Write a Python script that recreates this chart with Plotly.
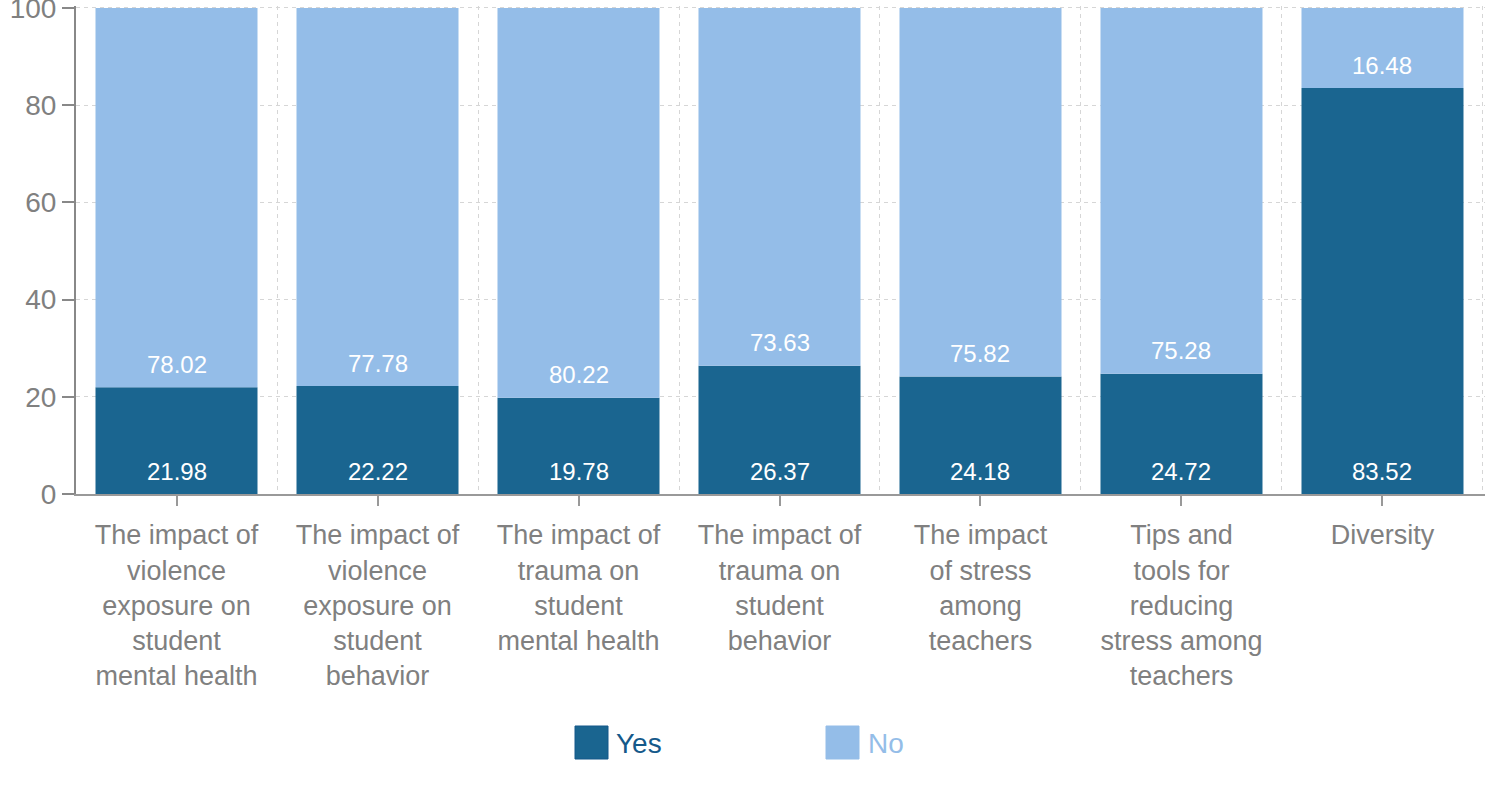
import plotly.graph_objects as go

# Survey topics (x categories, wrapped for the axis)
categories = [
    "The impact of<br>violence<br>exposure on<br>student<br>mental health",
    "The impact of<br>violence<br>exposure on<br>student<br>behavior",
    "The impact of<br>trauma on<br>student<br>mental health",
    "The impact of<br>trauma on<br>student<br>behavior",
    "The impact<br>of stress<br>among<br>teachers",
    "Tips and<br>tools for<br>reducing<br>stress among<br>teachers",
    "Diversity",
]
yes_values = [21.98, 22.22, 19.78, 26.37, 24.18, 24.72, 83.52]
no_values = [78.02, 77.78, 80.22, 73.63, 75.82, 75.28, 16.48]
y_ticks = [0, 20, 40, 60, 80, 100]

YES_COLOR = "#1a6590"
NO_COLOR = "#94bde8"
GREY = "#808080"
GRID = "#d6d6d6"
FONT = "Liberation Sans, Arial, sans-serif"

W, H = 1487, 811
M_L, M_R, M_T, M_B = 76, 2, 6, 317
PW, PH = W - M_L - M_R, H - M_T - M_B

x_pos = list(range(len(categories)))

fig = go.Figure()
fig.add_trace(go.Bar(x=x_pos, y=yes_values, name="Yes",
                     marker=dict(color=YES_COLOR, line=dict(width=0))))
fig.add_trace(go.Bar(x=x_pos, y=no_values, base=yes_values, name="No",
                     marker=dict(color=NO_COLOR, line=dict(width=0))))

# Value labels sit just above the base of each segment
annotations = []
for i in x_pos:
    for base, val in ((0, yes_values[i]), (yes_values[i], no_values[i])):
        annotations.append(dict(
            x=i, y=base, xref="x", yref="y", text=f"{val:.2f}",
            showarrow=False, yanchor="middle", yshift=23,
            font=dict(family=FONT, size=24, color="white")))

# Custom legend with large square swatches
def px_x(p):
    return (p - M_L) / PW

def px_y(p):
    return (H - M_B - p) / PH

shapes = []
legend_items = [("Yes", YES_COLOR, "#15598a", 575, 614),
                ("No", NO_COLOR, NO_COLOR, 826, 866)]
for label, fill, txt_color, sx, tx in legend_items:
    shapes.append(dict(type="rect", xref="paper", yref="paper",
                       x0=px_x(sx), x1=px_x(sx + 33), y0=px_y(759), y1=px_y(726),
                       fillcolor=fill, line=dict(color=txt_color, width=1)))
    annotations.append(dict(x=px_x(tx), y=px_y(743), xref="paper", yref="paper",
                            text=label, showarrow=False, xanchor="left",
                            yanchor="middle",
                            font=dict(family=FONT, size=28, color=txt_color)))

fig.update_layout(
    barmode="overlay",
    bargap=0.194,
    width=W, height=H,
    margin=dict(l=M_L, r=M_R, t=M_T, b=M_B, autoexpand=False),
    paper_bgcolor="white", plot_bgcolor="white",
    showlegend=False,
    font=dict(family=FONT, size=28, color=GREY),
    annotations=annotations,
    shapes=shapes,
    xaxis=dict(
        range=[-0.5, 6.51], tickmode="array", tickvals=x_pos, ticktext=categories,
        automargin=False,
        showgrid=False, zeroline=False,
        showline=True, linecolor="#999999", linewidth=2,
        ticks="outside", ticklen=10, tickwidth=2, tickcolor="#999999",
        ticklabelstandoff=6,
        tickfont=dict(family=FONT, size=27, color=GREY),
        minor=dict(tickmode="array", tickvals=[i + 0.5 for i in range(-1, 7)],
                   showgrid=True, gridcolor=GRID, griddash="4px,4px",
                   gridwidth=1, ticks=""),
    ),
    yaxis=dict(
        range=[0, 100.4], tickmode="array", tickvals=y_ticks,
        automargin=False,
        showgrid=True, gridcolor=GRID, griddash="4px,4px", gridwidth=1,
        zeroline=False,
        showline=True, linecolor="#888888", linewidth=2,
        ticks="outside", ticklen=12, tickwidth=2, tickcolor="#888888",
        ticklabeloverflow="allow",
        tickfont=dict(family=FONT, size=28, color=GREY),
    ),
)

fig.write_html("out.html")
